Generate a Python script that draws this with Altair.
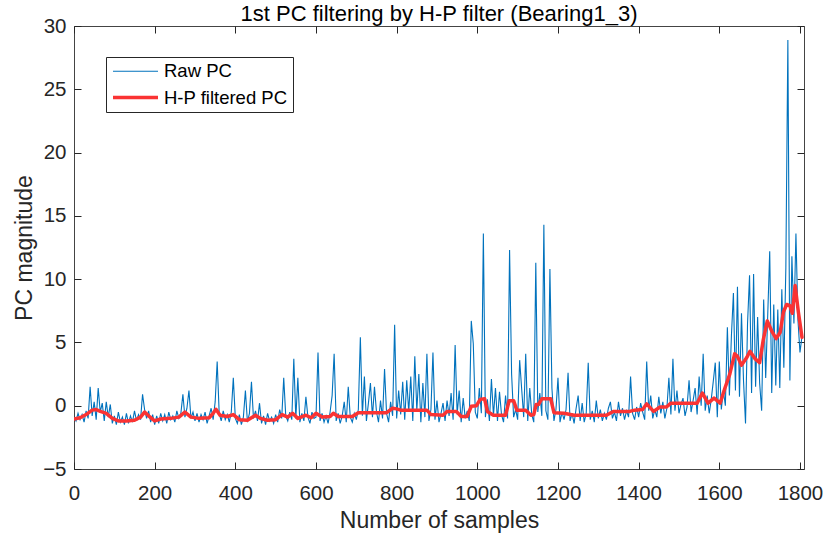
import altair as alt
import pandas as pd

# ---------------- text ----------------
title_text = "1st PC filtering by H-P filter (Bearing1_3)"
x_title = "Number of samples"
y_title = "PC magnitude"
series_names = ["Raw PC", "H-P filtered PC"]
series_colors = ["#0072BD", "#FA3333"]
series_widths = [1.1, 3.5]
x_ticks = [0, 200, 400, 600, 800, 1000, 1200, 1400, 1600, 1800]
y_ticks = [-5, 0, 5, 10, 15, 20, 25, 30]
x_domain = [0, 1810]
y_domain = [-5, 30]

# ---------------- data (one value every 5 samples) ----------------
raw_step = 5
raw_pc = [
    # 0-95
    -0.9, -1.2, -0.6, -1.1, -0.7, -1.3, -0.4, -1.0, 1.5, -0.8, 0.3, -1.1, 1.4, -0.5, 0.2, -1.2, 0.3, -0.9, 0.1, -1.4,
    # 100-195
    -0.8, -1.5, -0.5, -1.3, -0.9, -1.5, -0.6, -1.4, -0.8, -1.3, -0.4, -1.2, -0.7, -1.1, 0.9, -0.3, -1.0, -0.4, -1.3, -0.7,
    # 200-295
    -1.5, -0.8, -1.4, -0.6, -1.2, -0.7, -1.4, -0.5, -1.1, -0.8, -1.3, -0.4, -1.0, -0.6, 0.9, -0.9, -0.2, 1.2, -1.0, -0.5,
    # 300-395
    -1.2, -0.6, -1.3, -0.7, -1.1, -0.5, -1.4, -0.8, -0.2, -1.1, 0.3, 3.5, -0.6, -1.2, -0.4, -1.1, -0.7, -1.3, -0.5, 2.2,
    # 400-495
    -1.0, -1.4, -0.7, -1.5, -0.9, 1.2, -1.3, -0.6, 1.9, -1.0, -0.4, -1.2, 0.2, -1.4, -0.8, -1.5, -0.6, -1.2, -0.9, -1.4,
    # 500-595
    -0.7, -1.3, -0.3, -1.0, 2.2, -0.8, -1.2, -0.5, -1.1, 3.7, -1.0, 2.2, -1.3, -0.6, -1.2, 0.7, -0.9, -1.4, -0.5, -1.0,
    # 600-695
    -0.9, 4.2, -1.2, -0.6, -1.3, -0.8, -1.4, -0.5, 0.8, 4.1, -1.2, -0.6, -1.4, -0.8, 0.3, -1.3, 1.5, -0.9, -1.3, -0.6,
    # 700-795
    -1.1, -0.3, 5.4, -0.8, 2.3, -1.2, 0.2, 1.8, -0.9, 1.5, -0.5, -1.3, 0.4, -1.0, 2.9, -0.6, -1.3, 0.3, -0.8, 6.4,
    # 800-895
    -1.0, 1.2, -0.7, 1.9, -1.1, 2.0, -0.5, 2.3, -1.2, 3.9, -0.4, 2.5, -1.3, 1.8, -0.9, 4.1, -1.2, -0.3, 4.2, -1.1,
    # 900-995
    0.4, -1.3, -0.6, 0.2, -1.2, 0.4, -0.8, 1.0, -1.1, 4.8, -0.7, 1.2, -1.3, 0.6, -1.0, -0.4, -1.2, 6.7, 4.9, -0.5,
    # 1000-1095
    -1.0, 1.4, -0.6, 13.6, -0.9, 0.5, -1.2, 2.1, -0.8, 1.4, -1.2, 1.1, -0.7, -1.3, 0.8, -1.0, 12.3, 2.5, -0.9, -0.3,
    # 1100-1195
    -1.1, 3.6, 1.3, -0.9, 4.1, -1.2, 1.4, -0.7, -1.3, 11.3, -0.5, 1.0, -0.8, 14.3, -0.4, -1.1, 10.8, 1.4, -1.2, -0.3,
    # 1200-1295
    2.2, -1.3, -0.5, -1.1, -0.3, 2.6, -1.2, -0.6, -1.4, -0.2, 0.8, -1.2, 0.2, -1.3, -0.6, 3.4, -1.1, -0.4, -1.3, 0.4,
    # 1300-1395
    -1.0, -0.3, -1.2, -0.6, -1.1, -0.2, 0.3, -1.0, -0.5, -1.2, 0.3, -0.8, -0.2, -1.1, -0.4, -0.9, 2.3, -0.6, -1.1, -0.1,
    # 1400-1495
    -0.9, 0.2, -0.5, -1.1, 3.5, -0.4, 0.8, -1.0, -0.3, -0.9, 0.7, -0.6, 0.3, -1.0, -0.2, 2.2, -0.7, 3.7, -0.4, 1.2,
    # 1500-1595
    -0.6, 0.1, 0.6, -0.8, -0.1, 2.0, -0.5, 0.4, 1.4, -0.7, 2.3, 0.0, 4.1, -0.4, 0.8, -0.6, 0.5, 1.9, 3.4, -0.9,
    # 1600-1695
    3.5, -0.3, 1.2, 0.0, 6.2, 0.8, 5.5, 8.9, 1.2, 9.4, 0.7, 7.3, 2.0, -1.4, 6.5, 10.3, 1.0, 10.4, 1.5, 7.0,
    # 1700-1805
    1.8, -0.4, 8.4, 2.2, 7.1, 12.2, 1.0, 8.0, 1.6, 7.6, 1.4, 9.2, 3.0, 10.9, 28.9, 2.0, 11.8, 6.5, 13.6, 6.8, 4.2, 5.5,
]
raw_samples = [i * raw_step for i in range(len(raw_pc))]

hp_samples = [
    0, 15, 30, 45, 55, 65, 80, 95, 110, 130, 150, 165, 175, 185, 200, 215, 240, 260, 275, 290,
    310, 335, 345, 352, 362, 380, 395, 410, 430, 450, 462, 480, 500, 516, 530, 542, 555, 575, 588, 600,
    615, 635, 643, 655, 690, 705, 740, 775, 790, 800, 810, 840, 875, 885, 915, 925, 948, 960, 975, 985,
    998, 1007, 1018, 1025, 1040, 1070, 1079, 1090, 1098, 1120, 1133, 1140, 1146, 1152, 1160, 1182, 1190, 1215, 1240, 1280,
    1320, 1337, 1378, 1390, 1410, 1420, 1437, 1453, 1469, 1480, 1545, 1558, 1572, 1587, 1602, 1614, 1626, 1638, 1645, 1655,
    1668, 1676, 1689, 1700, 1709, 1719, 1730, 1741, 1751, 1759, 1767, 1775, 1781, 1788, 1796, 1805,
]
hp_pc = [
    -1.05, -0.95, -0.7, -0.35, -0.3, -0.45, -0.6, -1.0, -1.2, -1.2, -1.15, -0.9, -0.5, -0.8, -1.2, -1.05, -1.0, -0.9, -0.5, -0.9,
    -1.0, -0.95, -0.6, -0.28, -0.75, -0.85, -0.7, -1.1, -1.15, -0.75, -1.0, -1.15, -1.1, -0.7, -0.9, -0.6, -1.0, -0.75, -0.95, -0.6,
    -0.9, -0.85, -0.6, -0.85, -0.85, -0.55, -0.55, -0.55, -0.2, -0.25, -0.35, -0.35, -0.35, -0.7, -0.75, -0.45, -0.45, -0.85, -0.85, -0.05,
    0.0, 0.5, 0.55, -0.45, -0.75, -0.75, 0.4, 0.4, -0.35, -0.35, -0.75, -0.7, 0.1, 0.1, 0.55, 0.55, -0.55, -0.6, -0.75, -0.75,
    -0.75, -0.45, -0.45, -0.35, -0.3, 0.15, -0.45, -0.1, -0.1, 0.2, 0.2, 1.0, 0.2, 0.6, 0.2, 1.4, 2.5, 4.1, 3.9, 3.2,
    3.8, 4.3, 3.7, 3.4, 5.2, 6.7, 5.9, 5.3, 5.8, 7.4, 8.0, 7.9, 7.3, 9.5, 7.4, 5.4,
]

raw_df = pd.DataFrame({"sample": raw_samples, "value": raw_pc, "series": series_names[0]})
hp_df = pd.DataFrame({"sample": hp_samples, "value": hp_pc, "series": series_names[1]})

FONT = "Liberation Sans"
INK = "#262626"

color_scale = alt.Scale(domain=series_names, range=series_colors)
width_scale = alt.Scale(domain=series_names, range=series_widths)

legend = alt.Legend(
    title=None,
    orient="none",
    legendX=32,
    legendY=31,
    direction="vertical",
    symbolType="M-3,0H3",
    symbolSize=225,
    symbolOffset=15,
    labelFont=FONT,
    labelFontSize=18.5,
    labelColor="#000000",
    labelOffset=19,
    rowPadding=7,
    padding=5,
    strokeColor=INK,
    fillColor="white",
    labelLimit=300,
)

x_bottom = alt.Axis(
    values=x_ticks, format="d", orient="bottom", offset=-7, tickSize=7, domain=False, grid=False,
    labelFont=FONT, labelFontSize=20.5, labelColor=INK, labelPadding=14, labelFlush=False,
    tickColor=INK, title=x_title, titleFont=FONT, titleFontSize=23, titleFontWeight="normal",
    titleColor=INK, titlePadding=6,
)
y_left = alt.Axis(
    values=y_ticks, format="d", orient="left", offset=-7, tickSize=7, domain=False, grid=False,
    labelFont=FONT, labelFontSize=20.5, labelColor=INK, labelPadding=8, labelFlush=False,
    tickColor=INK, title=y_title, titleFont=FONT, titleFontSize=23, titleFontWeight="normal",
    titleColor=INK, titlePadding=6,
)
x_top = alt.Axis(values=x_ticks, orient="top", offset=-7, tickSize=7, domain=False, grid=False,
                 labels=False, tickColor=INK, title=None)
y_right = alt.Axis(values=y_ticks, orient="right", offset=-7, tickSize=7, domain=False, grid=False,
                   labels=False, tickColor=INK, title=None)

raw_line = alt.Chart(raw_df).mark_line(clip=True, interpolate="linear").encode(
    x=alt.X("sample:Q", scale=alt.Scale(domain=x_domain, nice=False, zero=False), axis=x_bottom),
    y=alt.Y("value:Q", scale=alt.Scale(domain=y_domain, nice=False, zero=False), axis=y_left),
    color=alt.Color("series:N", scale=color_scale, legend=legend),
    strokeWidth=alt.StrokeWidth("series:N", scale=width_scale, legend=legend),
)

hp_line = alt.Chart(hp_df).mark_line(clip=True, interpolate="linear", strokeJoin="round", strokeCap="round").encode(
    x=alt.X("sample:Q", scale=alt.Scale(domain=x_domain, nice=False, zero=False), axis=x_top),
    y=alt.Y("value:Q", scale=alt.Scale(domain=y_domain, nice=False, zero=False), axis=y_right),
    color=alt.Color("series:N", scale=color_scale, legend=legend),
    strokeWidth=alt.StrokeWidth("series:N", scale=width_scale, legend=legend),
)

chart = alt.layer(raw_line, hp_line).resolve_axis(
    x="independent", y="independent"
).properties(
    width=730,
    height=443,
    padding={"left": 74, "top": 26, "right": 23, "bottom": 71},
    autosize=alt.AutoSizeParams(type="none"),
    title=alt.Title(title_text, font=FONT, fontSize=22, fontWeight="normal", color="#000000",
                    anchor="middle", offset=4, dy=14),
    background="white",
).configure_view(
    stroke="#444444", strokeWidth=1,
)

chart.save("out.html", embed_options={"renderer": "svg", "actions": False})
